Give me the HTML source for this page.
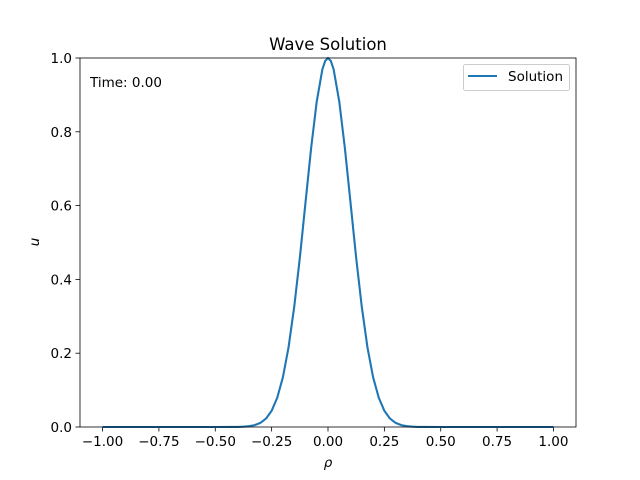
<!DOCTYPE html>
<html><head><meta charset="utf-8"><style>
body{margin:0;background:#fff}
svg{display:block;font-family:"DejaVu Sans","Liberation Sans",sans-serif}
</style></head><body>
<svg id="chart" width="640" height="480" viewBox="0 0 640 480">
<rect width="640" height="480" fill="#fff"/>
<text x="328" y="50" font-size="16.5" text-anchor="middle">Wave Solution</text>
<g id="xticks"></g>
<g id="yticks"></g>
<path id="curve" fill="none" stroke="#1f77b4" stroke-width="2.1" stroke-linejoin="round"/>
<rect x="80" y="58" width="496" height="369" fill="none" stroke="#000" stroke-width="0.8"/>
<text x="90" y="87" font-size="13.5">Time: 0.00</text>
<g>
<rect x="463.5" y="64.5" width="106" height="26" rx="2" fill="#fff" stroke="#ccc"/>
<line x1="468" y1="76" x2="497" y2="76" stroke="#1f77b4" stroke-width="2.1"/>
<text x="508" y="81" font-size="13.5">Solution</text>
</g>
<text x="328" y="467" font-size="13.5" font-style="italic" text-anchor="middle">ρ</text>
<text transform="translate(39,242) rotate(-90)" font-size="13.5" font-style="italic" text-anchor="middle">u</text>
</svg>
<script>
const xValues=[-1,-0.5,-0.425,-0.4,-0.375,-0.35,-0.325,-0.3,-0.275,-0.25,-0.225,-0.2,-0.175,-0.15,-0.125,-0.1,-0.075,-0.05,-0.025,-0.0125,0,0.0125,0.025,0.05,0.075,0.1,0.125,0.15,0.175,0.2,0.225,0.25,0.275,0.3,0.325,0.35,0.375,0.4,0.425,0.5,1];
const uValues=[0,0,0.0001,0.0003,0.0009,0.0022,0.0051,0.0111,0.0228,0.0439,0.0796,0.135,0.216,0.325,0.458,0.607,0.755,0.882,0.969,0.992,1,0.992,0.969,0.882,0.755,0.607,0.458,0.325,0.216,0.135,0.0796,0.0439,0.0228,0.0111,0.0051,0.0022,0.0009,0.0003,0.0001,0,0];
const xTicks=[-1,-0.75,-0.5,-0.25,0,0.25,0.5,0.75,1];
const xTickLabels=["−1.00","−0.75","−0.50","−0.25","0.00","0.25","0.50","0.75","1.00"];
const yTicks=[0,0.2,0.4,0.6,0.8,1];
const yTickLabels=["0.0","0.2","0.4","0.6","0.8","1.0"];
const NS="http://www.w3.org/2000/svg";
const sx=v=>80+(v+1.1)/2.2*496;
const sy=v=>427-v*369;
let d="";
xValues.forEach((x,i)=>{d+=(i?"L":"M")+sx(x).toFixed(2)+","+sy(uValues[i]).toFixed(2);});
document.getElementById("curve").setAttribute("d",d);
const xg=document.getElementById("xticks");
xTicks.forEach((t,i)=>{
 const l=document.createElementNS(NS,"line");
 l.setAttribute("x1",sx(t));l.setAttribute("x2",sx(t));l.setAttribute("y1",427);l.setAttribute("y2",431.5);l.setAttribute("stroke","#000");l.setAttribute("stroke-width","0.8");
 
 
 xg.appendChild(l);
 const tx=document.createElementNS(NS,"text");
 tx.setAttribute("x",sx(t));tx.setAttribute("y",446);tx.setAttribute("font-size","13.5");tx.setAttribute("text-anchor","middle");
 tx.textContent=xTickLabels[i];
 
 
 xg.appendChild(tx);
});
const yg=document.getElementById("yticks");
yTicks.forEach((t,i)=>{
 const l=document.createElementNS(NS,"line");
 l.setAttribute("x1",75.5);l.setAttribute("x2",80);l.setAttribute("y1",sy(t));l.setAttribute("y2",sy(t));l.setAttribute("stroke","#000");l.setAttribute("stroke-width","0.8");
 
 
 yg.appendChild(l);
 const tx=document.createElementNS(NS,"text");
 tx.setAttribute("x",72);tx.setAttribute("y",sy(t)+5);tx.setAttribute("font-size","13.5");tx.setAttribute("text-anchor","end");
 tx.textContent=yTickLabels[i];
 
 
 yg.appendChild(tx);
});
</script>
</body></html>
